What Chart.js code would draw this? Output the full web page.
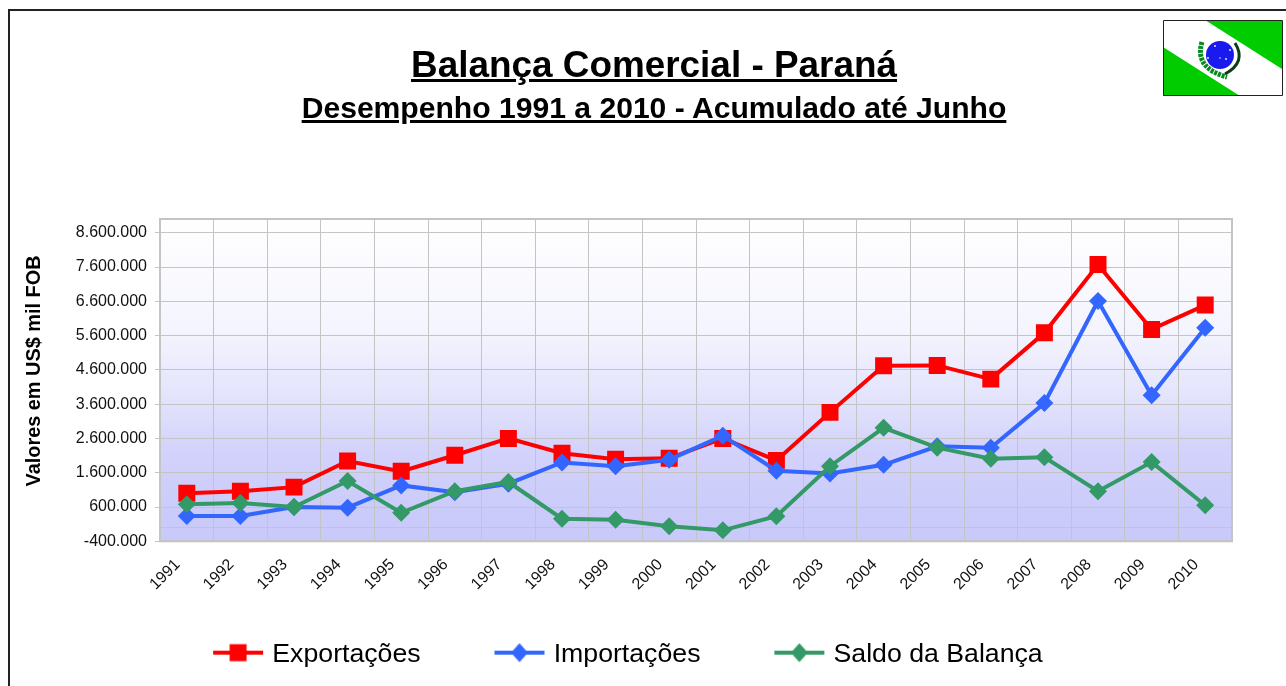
<!DOCTYPE html>
<html lang="pt-BR">
<head>
<meta charset="utf-8">
<title>Balança Comercial - Paraná</title>
<script src="https://cdn.jsdelivr.net/npm/chart.js@4/dist/chart.umd.min.js"></script>
<style>
  html, body { margin: 0; padding: 0; background: #fff; overflow: hidden; }
  body { width: 1286px; height: 686px; position: relative; font-family: "Liberation Sans", Arial, sans-serif; color: #000; }
  #frame { position: absolute; left: 8px; top: 9px; right: 0; bottom: -4px; border-left: 2px solid #222; border-top: 2px solid #222; }
  #chart { position: absolute; left: 0; top: 0; }
  .head { position: absolute; left: 0; width: 1308px; text-align: center; font-weight: bold; text-decoration: underline; white-space: nowrap; }
  #t1 { top: 43px; font-size: 36.9px; line-height: 44px; }
  #t2 { top: 91px; font-size: 30.1px; line-height: 34px; }
  #flag { position: absolute; left: 1163px; top: 20px; }
</style>
</head>
<body>
<div id="frame"></div>
<canvas id="chart" width="1286" height="686"></canvas>
<div id="t1" class="head">Balança Comercial - Paraná</div>
<div id="t2" class="head">Desempenho 1991 a 2010 - Acumulado até Junho</div>
<svg id="flag" width="120" height="76" viewBox="0 0 120 76">
  <rect x="0" y="0" width="120" height="76" fill="#fff"/>
  <polygon points="42,0 119,0 119,49" fill="#00cc00"/>
  <polygon points="0,27 0,76 77,76" fill="#00cc00"/>
  <path d="M 39 22 Q 31 48 64 57" fill="none" stroke="#0a8a1e" stroke-width="5" stroke-dasharray="3 1"/>
  <path d="M 72 23 Q 84 42 62 54" fill="none" stroke="#0b3d16" stroke-width="3"/>
  <circle cx="57" cy="35" r="14" fill="#1a1aee"/>
  <g fill="#dfe6ff">
    <circle cx="52" cy="26" r="1"/><circle cx="67" cy="30" r="1"/><circle cx="45" cy="38" r="1"/>
    <circle cx="57" cy="38" r="0.8"/><circle cx="63" cy="39" r="1"/>
  </g>
  <path d="M 0.5 75.5 V 0.5 H 119.5 V 75.5 H 0.5" fill="none" stroke="#222" stroke-width="1"/>
</svg>
<script>
  const years = ["1991","1992","1993","1994","1995","1996","1997","1998","1999","2000",
    "2001","2002","2003","2004","2005","2006","2007","2008","2009","2010"];
  const exportacoes = [1000000,1060000,1180000,1940000,1640000,2110000,2600000,2170000,1990000,2020000,
    2600000,1960000,3360000,4720000,4730000,4330000,5680000,7670000,5780000,6490000];
  const importacoes = [340000,340000,600000,580000,1230000,1030000,1280000,1900000,1790000,1980000,
    2680000,1660000,1580000,1830000,2370000,2330000,3630000,6610000,3860000,5830000];
  const saldo = [680000,720000,600000,1360000,430000,1060000,1330000,260000,230000,40000,
    -80000,330000,1790000,2910000,2330000,2010000,2050000,1060000,1910000,650000];
  const yTicks = [-400000,0,600000,1600000,2600000,3600000,4600000,5600000,6600000,7600000,8600000];

  const gridColor = "#c4c4c4";
  const fontFamily = '"Liberation Sans", Arial, sans-serif';

  const fmt = (v) => String(v).replace(/\B(?=(\d{3})+(?!\d))/g, ".");

  // line + marker sample for the legend, line sits right of the canvas centre
  function legendSample(color, shape) {
    const c = document.createElement("canvas");
    c.width = 80;
    c.height = 24;
    const g = c.getContext("2d");
    g.fillStyle = color;
    g.fillRect(29, 8, 50, 4);
    if (shape === "rect") {
      g.fillRect(45.5, 1.5, 17, 17);
    } else {
      g.beginPath();
      g.moveTo(54, 0.5); g.lineTo(62.5, 10); g.lineTo(54, 19.5); g.lineTo(45.5, 10);
      g.closePath();
      g.fill();
    }
    return c;
  }

  const plotBackground = {
    id: "plotBackground",
    beforeDraw(chart) {
      const { ctx, chartArea: a } = chart;
      const grad = ctx.createLinearGradient(0, a.top, 0, a.bottom);
      grad.addColorStop(0, "#ffffff");
      grad.addColorStop(0.35, "#f4f4fe");
      grad.addColorStop(0.57, "#e2e2fc");
      grad.addColorStop(0.72, "#d2d2fb");
      grad.addColorStop(1, "#c8c8fa");
      ctx.save();
      ctx.fillStyle = grad;
      ctx.fillRect(a.left, a.top, a.right - a.left, a.bottom - a.top);
      ctx.restore();
    },
    beforeDatasetsDraw(chart) {
      const { ctx, chartArea: a } = chart;
      ctx.save();
      ctx.strokeStyle = gridColor;
      ctx.lineWidth = 2;
      ctx.strokeRect(a.left, a.top, a.right - a.left, a.bottom - a.top);
      ctx.restore();
    },
    afterDraw(chart) {
      const ctx = chart.ctx;
      ctx.save();
      ctx.translate(34.5, 371);
      ctx.rotate(-Math.PI / 2);
      ctx.font = "bold 19.9px " + fontFamily;
      ctx.fillStyle = "#000";
      ctx.textAlign = "center";
      ctx.textBaseline = "middle";
      ctx.fillText("Valores em US$ mil FOB", 0, 0);
      ctx.restore();
    }
  };

  const makeSet = (label, data, color, style, radius, order) => ({
    label, data, order,
    borderColor: color,
    backgroundColor: color,
    borderWidth: 4,
    pointStyle: style,
    pointRadius: radius,
    pointBorderWidth: 0,
    pointBackgroundColor: color,
    tension: 0,
    sample: legendSample(color, style === "rect" ? "rect" : "diamond")
  });

  new Chart(document.getElementById("chart"), {
    type: "line",
    data: {
      labels: years,
      datasets: [
        makeSet("Exportações", exportacoes, "#ff0000", "rect", 12, 3),
        makeSet("Importações", importacoes, "#3366ff", "rectRot", 9, 2),
        makeSet("Saldo da Balança", saldo, "#339966", "rectRot", 9, 1)
      ]
    },
    options: {
      responsive: false,
      animation: false,
      layout: { padding: { left: 0, right: 54, top: 219, bottom: 8 } },
      scales: {
        x: {
          offset: true,
          afterFit(scale) { scale.height = 50; },
          grid: { color: gridColor, lineWidth: 1, offset: true, drawTicks: false },
          border: { color: gridColor, width: 2 },
          ticks: {
            color: "#111",
            font: { family: fontFamily, size: 16 },
            minRotation: 45,
            maxRotation: 45,
            autoSkip: false,
            padding: 14,
            labelOffset: -9
          }
        },
        y: {
          min: -400000,
          max: 9000000,
          afterFit(scale) { scale.width = 160; },
          afterBuildTicks(scale) { scale.ticks = yTicks.map((value) => ({ value })); },
          grid: {
            color: gridColor,
            lineWidth: 1,
            tickLength: 5,
            tickColor: (ctx) => (ctx.tick && ctx.tick.value === 0 ? "rgba(0,0,0,0)" : gridColor)
          },
          border: { color: gridColor, width: 2 },
          ticks: {
            color: "#111",
            font: { family: fontFamily, size: 16 },
            padding: 8,
            autoSkip: false,
            callback: (v) => (v === 0 ? "" : fmt(v))
          }
        }
      },
      plugins: {
        title: { display: false },
        tooltip: { enabled: false },
        legend: {
          position: "bottom",
          onClick: null,
          labels: {
            usePointStyle: true,
            pointStyleWidth: 69.65,
            padding: 50,
            color: "#000",
            font: { family: fontFamily, size: 26.7 },
            generateLabels(chart) {
              return chart.data.datasets.map((d, i) => ({
                text: d.label,
                datasetIndex: i,
                pointStyle: d.sample,
                fontColor: "#000",
                lineWidth: 0,
                strokeStyle: "transparent",
                fillStyle: d.borderColor,
                hidden: false
              }));
            }
          }
        }
      }
    },
    plugins: [plotBackground]
  });
</script>
</body>
</html>
